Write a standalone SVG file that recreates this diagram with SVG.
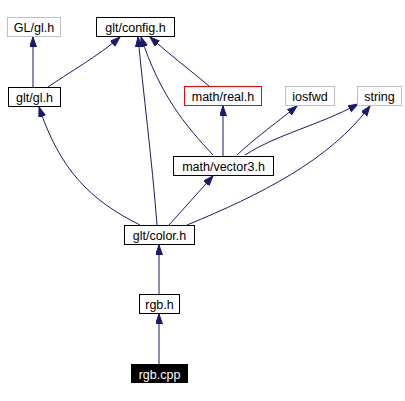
<svg xmlns="http://www.w3.org/2000/svg" width="405" height="401" viewBox="0 0 405 401">
<defs>
<marker id="ah" markerUnits="userSpaceOnUse" markerWidth="11" markerHeight="8" refX="10" refY="3.5" orient="auto">
<path d="M0,0 L10,3.5 L0,7 z" fill="#191970" stroke="#191970" stroke-width="1"/>
</marker>
<style>
.n rect{fill:#fff;stroke:#000;stroke-width:1}
.g rect{stroke:#bfbfbf}
.r rect{stroke:#ff0000}
.n text{font-family:"Liberation Sans",Arial,sans-serif;font-size:12.5px;text-anchor:middle;fill:#000}
.e path{fill:none;stroke:#191970;stroke-width:1;marker-end:url(#ah)}
</style>
</defs>
<rect width="405" height="401" fill="#fff"/>
<g class="e" id="edges">
<path d="M33,87 L33,37"/>
<path d="M48,87 C65,75 100,55 120,37"/>
<path d="M140,225 C90,200 60,170 39,107"/>
<path d="M157,225 C152,160 143,90 138,37"/>
<path d="M213,155 C185,125 160,95 141,37"/>
<path d="M209,86 C190,70 170,55 150,37"/>
<path d="M223,156 L223,106"/>
<path d="M237,155 C255,138 280,120 297,106"/>
<path d="M245,155 C275,135 320,125 358,104"/>
<path d="M187,225 C260,195 330,160 370,106"/>
<path d="M169,225 L213,176"/>
<path d="M159,294 L159,245"/>
<path d="M159,364 L159,314"/>
</g>
<g class="n g" id="n_GLgl"><rect x="7.5" y="17.5" width="53" height="19"/><text x="34" y="31.5">GL/gl.h</text></g>
<g class="n" id="n_config"><rect x="96.5" y="17.5" width="78" height="19"/><text x="135.5" y="31.5">glt/config.h</text></g>
<g class="n" id="n_gltgl"><rect x="8.5" y="87.5" width="52" height="19"/><text x="34.5" y="101.5">glt/gl.h</text></g>
<g class="n r" id="n_real"><rect x="184.5" y="86.5" width="77" height="19"/><text x="223" y="100.5">math/real.h</text></g>
<g class="n g" id="n_iosfwd"><rect x="285.5" y="86.5" width="49" height="19"/><text x="310" y="100.5">iosfwd</text></g>
<g class="n g" id="n_string"><rect x="357.5" y="86.5" width="44" height="19"/><text x="379.5" y="100.5">string</text></g>
<g class="n" id="n_vector3"><rect x="173.5" y="156.5" width="100" height="19"/><text x="223.5" y="170.5">math/vector3.h</text></g>
<g class="n" id="n_color"><rect x="124.5" y="225.5" width="70" height="19"/><text x="159.5" y="239.5">glt/color.h</text></g>
<g class="n" id="n_rgbh"><rect x="139.5" y="294.5" width="40" height="19"/><text x="159.5" y="308.5">rgb.h</text></g>
<g id="n_rgbcpp"><rect x="131" y="364" width="57" height="19" fill="#000"/><text x="159.5" y="378.5" style="font-family:'Liberation Sans',Arial,sans-serif;font-size:12.5px;text-anchor:middle;fill:#fff">rgb.cpp</text></g>
</svg>
